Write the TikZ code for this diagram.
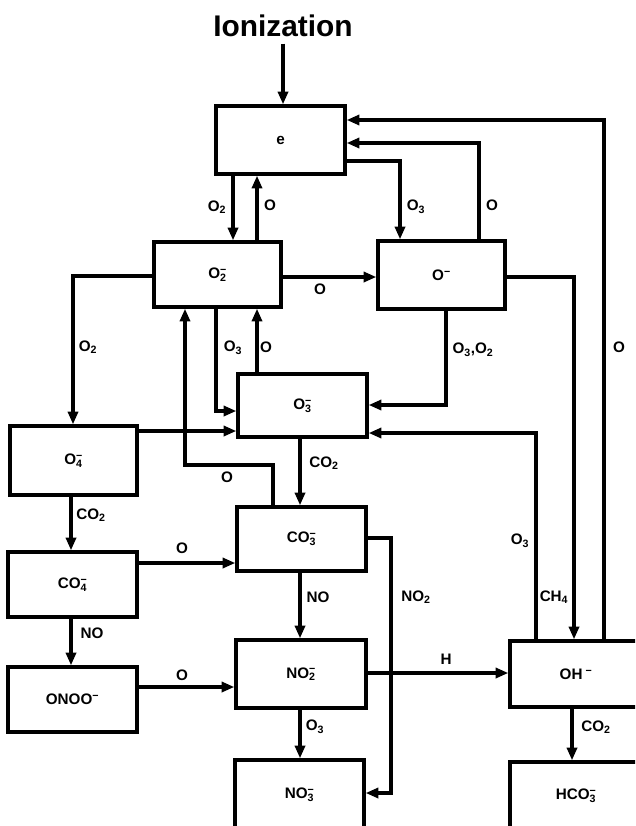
\documentclass[tikz,border=0pt]{standalone}
\usepackage{fontspec}
\setmainfont{Liberation Sans}
\usetikzlibrary{arrows.meta}
\newdimen\pxu \pxu=0.3mm
\newcommand\anion[2]{#1\rlap{\textsuperscript{−}}\textsubscript{#2}}
\begin{document}
\begin{tikzpicture}[x=0.3mm,y=-0.3mm, line width=1mm,
  box/.style={draw, rectangle, font=\bfseries\fontsize{13}{15}\selectfont, inner sep=0pt},
  arr/.style={-{Triangle[length=3.8mm,width=3mm]}, line width=1mm},
  lbl/.style={font=\bfseries\fontsize{13}{15}\selectfont, inner sep=0pt}]
\useasboundingbox (0,0) rectangle (635,826);
\clip (0,0) rectangle (635,826);

% title
\node[font=\bfseries\fontsize{25.5}{30}\selectfont, inner sep=0pt] (ion) at (283,26) {Ionization};

% boxes
\node[box, minimum width=129\pxu, minimum height=68\pxu] (e)   at (280.5,140) {e};
\node[box, minimum width=127\pxu, minimum height=65\pxu] (o2)  at (217.5,274.5) {\anion{O}{2}};
\node[box, minimum width=127\pxu, minimum height=68\pxu] (o)   at (441.5,275) {O\textsuperscript{−}};
\node[box, minimum width=129\pxu, minimum height=63\pxu] (o3)  at (302.5,405.5) {\anion{O}{3}};
\node[box, minimum width=127\pxu, minimum height=69\pxu] (o4)  at (73.5,460.5) {\anion{O}{4}};
\node[box, minimum width=129\pxu, minimum height=64\pxu] (co3) at (301.5,539) {\anion{CO}{3}};
\node[box, minimum width=129\pxu, minimum height=65\pxu] (co4) at (72.5,584.5) {\anion{CO}{4}};
\node[box, minimum width=129\pxu, minimum height=65\pxu] (onoo) at (72.5,699.5) {ONOO\textsuperscript{−}};
\node[box, minimum width=130\pxu, minimum height=68\pxu] (no2) at (301,674) {\anion{NO}{2}};
\node[box, minimum width=129\pxu, minimum height=70\pxu] (no3) at (299.5,795) {\anion{NO}{3}};
\node[box, minimum width=132\pxu, minimum height=66\pxu] (oh)  at (576,674) {OH\textsuperscript{ −}};
\node[box, minimum width=132\pxu, minimum height=68\pxu] (hco3) at (576,796) {\anion{HCO}{3}};

% helper corners
\coordinate (k1) at (185,465);
\coordinate (k2) at (391,793);

% connectors
\draw[arr] ([yshift=-5\pxu]ion.south) -- (e.north -| ion.south);
\draw[arr] (e.south -| 233,0) -- (o2.north -| 233,0);
\draw[arr] (o2.north -| 257,0) -- (e.south -| 257,0);
\draw[arr] (e.east |- 0,161) -| (o.north -| 400,0);
\draw[arr] (o.north -| 479,0) |- (e.east |- 0,143);
\draw[arr] (oh.north -| 604,0) |- (e.east |- 0,120);
\draw[arr] (o2.east |- 0,277) -- (o.west |- 0,277);
\draw[arr] (o2.west |- 0,276) -| (o4.north -| 73,0);
\draw[arr] (o2.south -| 216,0) |- (o3.west |- 0,411);
\draw[arr] (o3.north -| 257,0) -- (o2.south -| 257,0);
\draw[arr] (co3.north -| 273,0) |- (k1) -- (o2.south -| k1);
\draw[arr] (o4.east |- 0,431) -- (o3.west |- 0,431);
\draw[arr] (o.south -| 446,0) |- (o3.east |- 0,405);
\draw[arr] (oh.north -| 536,0) |- (o3.east |- 0,433);
\draw[arr] (o.east |- 0,277) -| (oh.north -| 574,0);
\draw[arr] (o3.south -| 300,0) -- (co3.north -| 300,0);
\draw[arr] (o4.south -| 71,0) -- (co4.north -| 71,0);
\draw[arr] (co4.east |- 0,563) -- (co3.west |- 0,563);
\draw[arr] (co4.south -| 71,0) -- (onoo.north -| 71,0);
\draw[arr] (onoo.east |- 0,687) -- (no2.west |- 0,687);
\draw[arr] (co3.south -| 300,0) -- (no2.north -| 300,0);
\draw[arr] (co3.east |- 0,538) -| (k2) -- (no3.east |- k2);
\draw[arr] (no2.east |- 0,673) -- (oh.west |- 0,673);
\draw[arr] (no2.south -| 300,0) -- (no3.north -| 300,0);
\draw[arr] (oh.south -| 572,0) -- (hco3.north -| 572,0);

% labels
\node[lbl] (l1)  at (217,207) {O\textsubscript{2}};
\node[lbl] (l2)  at (270,205) {O};
\node[lbl] (l3)  at (416,207) {O\textsubscript{3}};
\node[lbl] (l4)  at (492,205) {O};
\node[lbl] (l5)  at (320,289) {O};
\node[lbl] (l6)  at (88,347)  {O\textsubscript{2}};
\node[lbl] (l7)  at (233,348) {O\textsubscript{3}};
\node[lbl] (l8)  at (266,347) {O};
\node[lbl] (l9)  at (473,350) {O\textsubscript{3},O\textsubscript{2}};
\node[lbl] (l10) at (619,347) {O};
\node[lbl] (l11) at (324,463) {CO\textsubscript{2}};
\node[lbl] (l12) at (227,477) {O};
\node[lbl] (l13) at (91,515)  {CO\textsubscript{2}};
\node[lbl] (l14) at (182,548) {O};
\node[lbl] (l15) at (92,633)  {NO};
\node[lbl] (l16) at (182,675) {O};
\node[lbl] (l17) at (318,597) {NO};
\node[lbl] (l18) at (416,597) {NO\textsubscript{2}};
\node[lbl] (l19) at (520,541) {O\textsubscript{3}};
\node[lbl] (l20) at (554,597) {CH\textsubscript{4}};
\node[lbl] (l21) at (446,659) {H};
\node[lbl] (l22) at (315,727) {O\textsubscript{3}};
\node[lbl] (l23) at (596,727) {CO\textsubscript{2}};
\end{tikzpicture}
\end{document}
